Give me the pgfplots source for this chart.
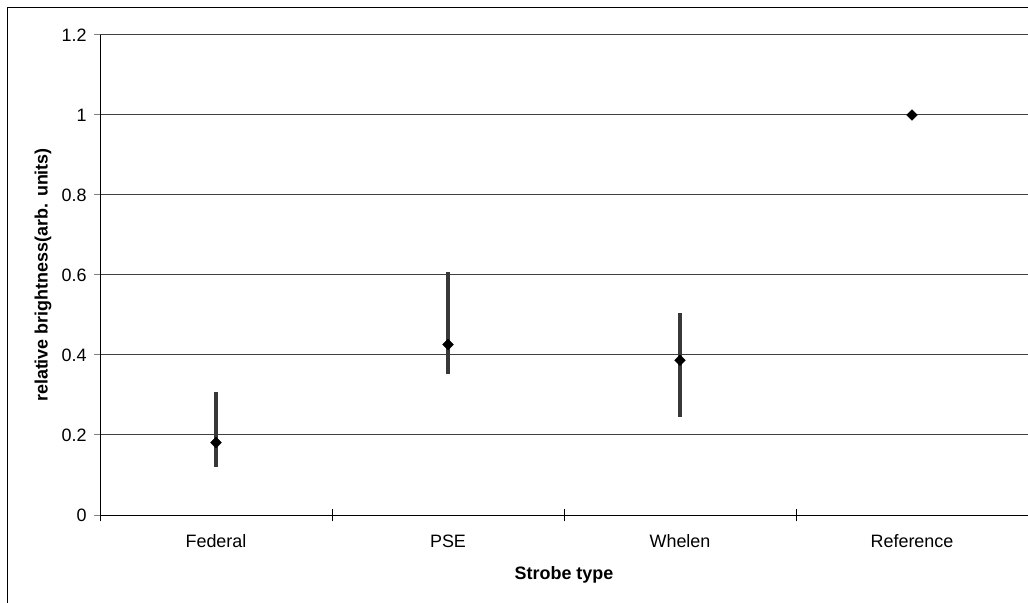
\documentclass[border=0pt]{standalone}
\usepackage{pgfplots}
\pgfplotsset{compat=1.18}
\usepackage{pgfplotstable}
\usepackage{fontspec}
\setmainfont{Liberation Sans}

% strobe brightness: value, error up, error down
\pgfplotstableread{
x    y      ep      em
0.5  0.181  0.1265  0.060
1.5  0.426  0.1815  0.074
2.5  0.387  0.117   0.141
3.5  1.000  0       0
}\strobes

\begin{document}
\begin{tikzpicture}
	\useasboundingbox (0,0) rectangle (1028bp,603bp);
	% outer chart frame (cut off at right and bottom)
	\draw[line width=1.3bp] (7.5bp,-20bp) -- (7.5bp,595.5bp) -- (1060bp,595.5bp);
	\begin{axis}[
		at={(100bp,88bp)}, anchor=south west,
		scale only axis,
		width=928bp, height=480bp,
		font=\fontsize{18}{21}\selectfont,
		/pgf/number format/assume math mode=true,
		axis lines=left,
		axis line style={-, line width=1bp},
		xmin=0, xmax=4,
		ymin=0, ymax=1.2,
		xtick={0.5,1.5,2.5,3.5},
		xticklabels={Federal,PSE,Whelen,Reference},
		xtick style={draw=none},
		xticklabel style={yshift=-10bp},
		extra x ticks={0,1,2,3,4},
		extra x tick labels={},
		extra x tick style={major tick length=13bp, tick align=center,
			xtick style={draw=black, line width=1bp}},
		ytick={0,0.2,0.4,0.6,0.8,1,1.2},
		yticklabel style={/pgf/number format/fixed, /pgf/number format/precision=1, xshift=-4bp},
		tick align=outside,
		major tick length=6bp,
		ytick style={line width=1bp},
		ymajorgrids,
		major grid style={black!75, line width=1bp},
		xlabel={\textbf{Strobe type}},
		ylabel={\textbf{relative brightness(arb. units)}},
		every axis x label/.style={at={([yshift=-60bp]axis description cs:0.5,0)}, anchor=center},
		every axis y label/.style={at={([xshift=-57bp]axis description cs:0,0.5)}, anchor=center, rotate=90},
		]
		\addplot[only marks, mark=square*, mark size=3.8bp,
			mark options={rotate=45, fill=black, draw=black},
			error bars/.cd, y dir=both, y explicit,
			error mark=none,
			error bar style={line width=4.3bp, color=black!78}]
			table[x=x, y=y, y error plus=ep, y error minus=em] {\strobes};
	\end{axis}
\end{tikzpicture}
\end{document}
